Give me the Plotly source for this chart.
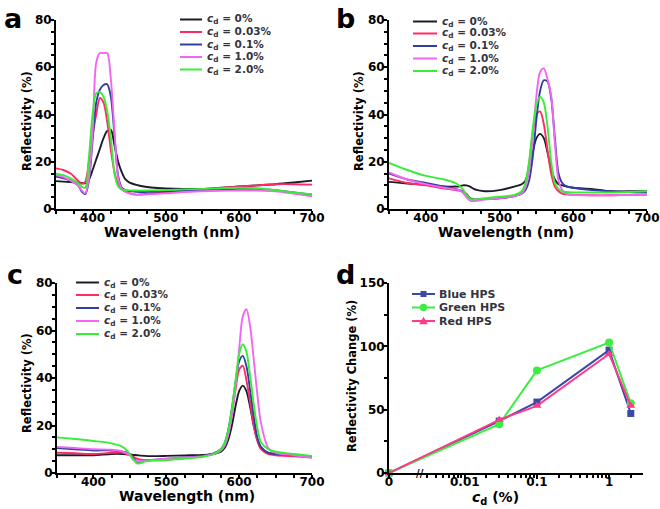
import numpy as np
import plotly.graph_objects as go

W, H = 660, 509

# ---------------- data ----------------
labels = ["0%", "0.03%", "0.1%", "1.0%", "2.0%"]
spec_colors = ["#1c1c28", "#ff2a66", "#2f3f9f", "#f266f2", "#38ec38"]

wl_a = [350, 360, 370, 380, 385, 390, 395, 400, 405, 410, 415, 420, 425, 430, 435, 440, 445, 450,
        460, 470, 480, 500, 525, 550, 575, 600, 625, 650, 675, 700]
a_0 = [11.8, 11.6, 11.4, 11.2, 11.0, 10.9, 12.5, 16.5, 21, 25.5, 30, 33, 33.5, 27, 20, 15.5, 12.5, 11.3,
       10.2, 9.5, 9.1, 8.7, 8.5, 8.5, 9.0, 9.5, 10.0, 10.5, 11.2, 12.0]
a_003 = [17.2, 16.5, 15, 12, 10.7, 11.5, 20, 31, 40, 47, 45, 37, 25, 15.5, 10.5, 8.3, 7.3, 6.7,
         6.1, 6.3, 6.6, 7.0, 7.5, 8.0, 8.8, 9.5, 10.0, 10.5, 10.5, 10.3]
a_01 = [13.7, 13, 12, 10, 7.5, 6.3, 12, 29, 45, 50.5, 52.5, 52.8, 47.5, 31, 14, 9, 8, 7.6,
        7.3, 7.2, 7.3, 7.5, 7.7, 7.8, 8.2, 8.5, 8.5, 8.0, 7.0, 6.0]
a_1 = [14.4, 13.5, 12, 10, 8, 6.6, 13, 32, 62, 66, 66, 66, 55, 33, 13, 8.5, 7.3, 6.6,
       6.0, 6.1, 6.3, 6.6, 7.2, 7.5, 7.7, 7.8, 7.8, 7.5, 6.5, 5.4]
a_2 = [15, 14.3, 13, 11, 9.5, 9, 22, 40, 49, 49.5, 47.5, 41.5, 30, 15, 9.5, 8.2, 8, 7.9,
       7.8, 7.8, 7.9, 8.0, 8.3, 8.5, 8.8, 9.0, 8.8, 8.0, 7.0, 6.3]

wl_b = [350, 375, 400, 425, 440, 445, 450, 455, 460, 465, 470, 480, 500, 520, 530, 535, 540, 545,
        550, 555, 560, 565, 570, 575, 580, 585, 590, 600, 625, 650, 675, 700]
b_0 = [11.5, 10.8, 10.3, 9.5, 9.5, 9.5, 10, 10, 9.5, 8.5, 8, 7.5, 8, 9.5, 10.5, 12, 17, 24,
       30, 31.8, 30, 24, 17, 12.5, 10.5, 10, 9.6, 9, 8.5, 7.5, 7.5, 7.5]
b_003 = [13, 11, 10, 8.7, 8, 7.8, 7.5, 6.5, 4.5, 4, 4, 4.2, 4.5, 5.5, 7, 10, 19, 32,
         40, 41.3, 36, 25, 15, 9.5, 7.5, 6.5, 6.2, 6, 5.8, 5.8, 6, 6]
b_01 = [15, 12.5, 11, 9.5, 8.5, 8, 7.5, 6, 4.5, 4, 4, 4.2, 4.6, 5.5, 6.5, 8, 12, 22,
        38, 50, 54.5, 54, 47, 30, 15, 11, 9.7, 9, 8, 7.5, 7.2, 7]
b_1 = [15.5, 12.5, 10.5, 9, 8.3, 8, 7, 5, 3.5, 3.3, 3.5, 4, 4.5, 5.5, 6.5, 9, 16, 30,
       48, 58, 59.5, 55, 48, 28, 12, 8, 6.5, 6, 5.8, 5.8, 6, 6]
b_2 = [19.5, 16.5, 14, 12.5, 11, 10, 8.5, 6, 4.3, 4, 4.2, 4.6, 5.2, 6, 7.5, 11, 20, 34,
       44, 47.5, 45, 35, 20, 11, 8.5, 7.5, 7.2, 7, 7, 7, 7.2, 7.5]

wl_c = [350, 375, 400, 425, 440, 450, 455, 460, 465, 470, 480, 500, 525, 550, 565, 575, 580, 585,
        590, 595, 600, 605, 610, 615, 620, 625, 630, 640, 650, 675, 700]
c_0 = [7.5, 7.5, 7.5, 8, 8, 7.8, 7.6, 7.5, 7.3, 7.2, 7.1, 7.2, 7.4, 7.6, 8, 9, 10.5, 14,
       20, 28, 34.5, 36.8, 34.5, 28, 20, 14, 10.5, 8.5, 8, 7.5, 7]
c_003 = [8.5, 8.3, 8, 8.5, 8.5, 7.5, 6.8, 6, 5.6, 5.5, 5.5, 5.6, 6.3, 7.2, 8.2, 10, 12, 17,
         25, 35, 43.5, 45.2, 39, 30, 20, 13.5, 10, 8, 7.5, 7, 6.5]
c_01 = [10.5, 10, 9.5, 9.5, 9, 8, 6, 4.8, 4.7, 5, 5.5, 6, 6.5, 7.2, 8.3, 10, 12.5, 18,
        27, 38, 47, 49.3, 45, 35, 24, 15, 11, 8.5, 8, 7.5, 7]
c_1 = [11, 10.5, 10, 9.8, 9, 7.5, 5.5, 5, 5, 5.2, 5.5, 6, 6.5, 7, 8, 9.5, 11.5, 16,
       24, 36, 52, 66, 69, 62, 48, 33, 21, 10.5, 8.5, 7.5, 6.5]
c_2 = [15, 14.3, 13.5, 12.5, 11, 8, 5.5, 4, 4.2, 4.8, 5.2, 5.5, 6, 6.8, 8, 10, 12.5, 18,
       27, 39, 50, 54.2, 51, 41, 29, 19, 13, 10, 9, 8, 7.2]

cd = [0, 0.03, 0.1, 1, 2]
d_names = ["Blue HPS", "Green HPS", "Red HPS"]
d_blue = [0, 41, 56, 97, 47]
d_green = [0, 38.5, 81, 103, 55]
d_red = [0, 42, 53, 94, 53]
d_colors = ["#3a48a8", "#3cee44", "#ff3a88"]
d_symbols = ["square", "circle", "triangle-up"]

# ---------------- helpers ----------------
FONT = "DejaVu Sans"
ZERO_POS = -3.05  # where c_d = 0 sits on the broken log axis


def px(x, y):
    return x / W, 1 - y / H


def cpos(v):
    return ZERO_POS if v == 0 else float(np.log10(v))


fig = go.Figure()

panels = [
    (wl_a, [a_0, a_003, a_01, a_1, a_2], "x", "y"),
    (wl_b, [b_0, b_003, b_01, b_1, b_2], "x2", "y2"),
    (wl_c, [c_0, c_003, c_01, c_1, c_2], "x3", "y3"),
]
for wl, series, xa, ya in panels:
    for s, col, lab in zip(series, spec_colors, labels):
        fig.add_trace(go.Scatter(x=wl, y=s, mode="lines", xaxis=xa, yaxis=ya,
                                 line=dict(color=col, width=1.9, shape="spline", smoothing=0.8),
                                 name=lab, showlegend=False))

xd = [cpos(v) for v in cd]
for ys, col, sym, nm in zip([d_blue, d_green, d_red], d_colors, d_symbols, d_names):
    fig.add_trace(go.Scatter(x=xd, y=ys, mode="lines+markers", xaxis="x4", yaxis="y4",
                             line=dict(color=col, width=2),
                             marker=dict(symbol=sym, size=7 if sym == "square" else 8, color=col),
                             cliponaxis=False, name=nm, showlegend=False))

tickfont = dict(family=FONT, size=12, color="black", weight="bold")
axis_common = dict(showline=True, linecolor="black", linewidth=2, ticks="outside", ticklen=4,
                   tickwidth=1.5, tickcolor="black", showgrid=False, zeroline=False,
                   tickfont=tickfont, mirror=False, fixedrange=True)


def xspec(dom, anchor):
    return dict(axis_common, domain=dom, anchor=anchor, range=[350, 700], tickmode="linear",
                tick0=400, dtick=100, ticklabelstandoff=-7,
                minor=dict(tickmode="linear", tick0=350, dtick=25, ticks="outside", ticklen=3,
                           tickwidth=1.5, tickcolor="black"))


def yspec(dom, anchor, rng, dt, mdt):
    return dict(axis_common, domain=dom, anchor=anchor, range=rng, tickmode="linear", tick0=0,
                dtick=dt, ticklabelstandoff=-4,
                minor=dict(tickmode="linear", tick0=0, dtick=mdt, ticks="outside", ticklen=3,
                           tickwidth=1.5, tickcolor="black"))


xa_dom = [56 / W, 312 / W]
xb_dom = [389 / W, 647 / W]
xc_dom = [57 / W, 312 / W]
xd_dom = [389 / W, 643 / W]
ytop_dom = [1 - 209 / H, 1 - 20 / H]
ybot_dom = [1 - 473 / H, 1 - 283 / H]

minor_d = ([float(np.log10(k * 1e-3)) for k in range(3, 10)] +
           [float(np.log10(k * 1e-2)) for k in range(2, 10)] +
           [float(np.log10(k * 1e-1)) for k in range(2, 10)] + [float(np.log10(2))])

fig.update_layout(
    width=W, height=H, margin=dict(l=0, r=0, t=0, b=0),
    template="none", plot_bgcolor="white", paper_bgcolor="white", showlegend=False,
    xaxis=xspec(xa_dom, "y"), yaxis=yspec(ytop_dom, "x", [0, 80], 20, 5),
    xaxis2=xspec(xb_dom, "y2"), yaxis2=yspec(ytop_dom, "x2", [0, 80], 20, 5),
    xaxis3=xspec(xc_dom, "y3"), yaxis3=yspec(ybot_dom, "x3", [0, 80], 20, 5),
    xaxis4=dict(axis_common, domain=xd_dom, anchor="y4", range=[ZERO_POS, 0.47],
                tickmode="array", tickvals=[ZERO_POS, -2, -1, 0], ticktext=["0", "0.01", "0.1", "1"],
                ticklabelstandoff=-7,
                minor=dict(tickmode="array", tickvals=minor_d, ticks="outside", ticklen=3,
                           tickwidth=1.5, tickcolor="black")),
    yaxis4=yspec(ybot_dom, "x4", [0, 150], 50, 25),
)

annotations = []
shapes = []

# axis titles
xt_font = dict(family=FONT, size=14, color="black", weight="bold")
yt_font = dict(family=FONT, size=11.5, color="black", weight="bold")
for (cx, cy) in [(172, 232), (506, 232), (187, 496)]:
    x, y = px(cx, cy)
    annotations.append(dict(text="Wavelength (nm)", x=x, y=y, xref="paper", yref="paper",
                            xanchor="center", yanchor="middle", showarrow=False, font=xt_font))
for (cx, cy) in [(27, 121), (359, 121), (27, 383)]:
    x, y = px(cx, cy)
    annotations.append(dict(text="Reflectivity (%)", x=x, y=y, xref="paper", yref="paper",
                            xanchor="center", yanchor="middle", showarrow=False, font=yt_font,
                            textangle=-90))
x, y = px(352, 376)
annotations.append(dict(text="Reflectivity Change (%)", x=x, y=y, xref="paper", yref="paper",
                        xanchor="center", yanchor="middle", showarrow=False, font=yt_font,
                        textangle=-90))
x, y = px(496, 498)
annotations.append(dict(text="<i>c</i><sub>d</sub> (%)", x=x, y=y, xref="paper", yref="paper",
                        xanchor="center", yanchor="middle", showarrow=False, font=xt_font))

# panel letters
for lt, (cx, cy) in zip("abcd", [(13, 18), (345, 18), (15, 274), (345, 274)]):
    x, y = px(cx, cy)
    annotations.append(dict(text=lt, x=x, y=y, xref="paper", yref="paper", xanchor="center",
                            yanchor="middle", showarrow=False,
                            font=dict(family=FONT, size=27, color="black", weight="bold")))

# axis break mark on panel d
annotations.append(dict(text="//", x=-2.62, y=0, xref="x4", yref="y4", xanchor="center",
                        yanchor="middle", showarrow=False,
                        font=dict(family=FONT, size=10, color="black", weight="bold")))

# manual legends for spectra
leg_font = dict(family=FONT, size=10.5, color="#34343e", weight="bold")
leg_specs = [
    (180, 202, 205, [19.5, 32, 44.5, 57, 69.5]),
    (413, 437, 440, [21.5, 33.5, 46, 58.5, 71]),
    (76, 99, 102, [282.5, 295, 308, 321, 334]),
]
for lx0, lx1, tx, rows in leg_specs:
    for ry, col, lab in zip(rows, spec_colors, labels):
        x0, y0 = px(lx0, ry)
        x1, _ = px(lx1, ry)
        shapes.append(dict(type="line", xref="paper", yref="paper", x0=x0, x1=x1, y0=y0, y1=y0,
                           line=dict(color=col, width=2)))
        xt, yt = px(tx, ry)
        annotations.append(dict(text="<i>c</i><sub>d</sub> = " + lab, x=xt, y=yt, xref="paper",
                                yref="paper", xanchor="left", yanchor="middle", showarrow=False,
                                font=leg_font))

# legend for panel d
for ry, col, sym, nm in zip([294, 307.5, 321], d_colors, d_symbols, d_names):
    x0, y0 = px(412, ry)
    x1, _ = px(435, ry)
    shapes.append(dict(type="line", xref="paper", yref="paper", x0=x0, x1=x1, y0=y0, y1=y0,
                       line=dict(color=col, width=2)))
    mx = 423.5
    if sym == "square":
        a0, b0 = px(mx - 3, ry - 3)
        a1, b1 = px(mx + 3, ry + 3)
        shapes.append(dict(type="rect", xref="paper", yref="paper", x0=a0, x1=a1, y0=b0, y1=b1,
                           fillcolor=col, line=dict(width=0)))
    elif sym == "circle":
        a0, b0 = px(mx - 3.7, ry - 3.7)
        a1, b1 = px(mx + 3.7, ry + 3.7)
        shapes.append(dict(type="circle", xref="paper", yref="paper", x0=a0, x1=a1, y0=b0, y1=b1,
                           fillcolor=col, line=dict(width=0)))
    else:
        p1 = px(mx, ry - 4.2)
        p2 = px(mx - 4.3, ry + 3.2)
        p3 = px(mx + 4.3, ry + 3.2)
        path = "M {} {} L {} {} L {} {} Z".format(p1[0], p1[1], p2[0], p2[1], p3[0], p3[1])
        shapes.append(dict(type="path", xref="paper", yref="paper", path=path, fillcolor=col,
                           line=dict(width=0)))
    xt, yt = px(437, ry)
    annotations.append(dict(text=nm, x=xt, y=yt, xref="paper", yref="paper", xanchor="left",
                            yanchor="middle", showarrow=False,
                            font=dict(family=FONT, size=11, color="#34343e", weight="bold")))

fig.update_layout(annotations=annotations, shapes=shapes)
fig.write_html("out.html")
